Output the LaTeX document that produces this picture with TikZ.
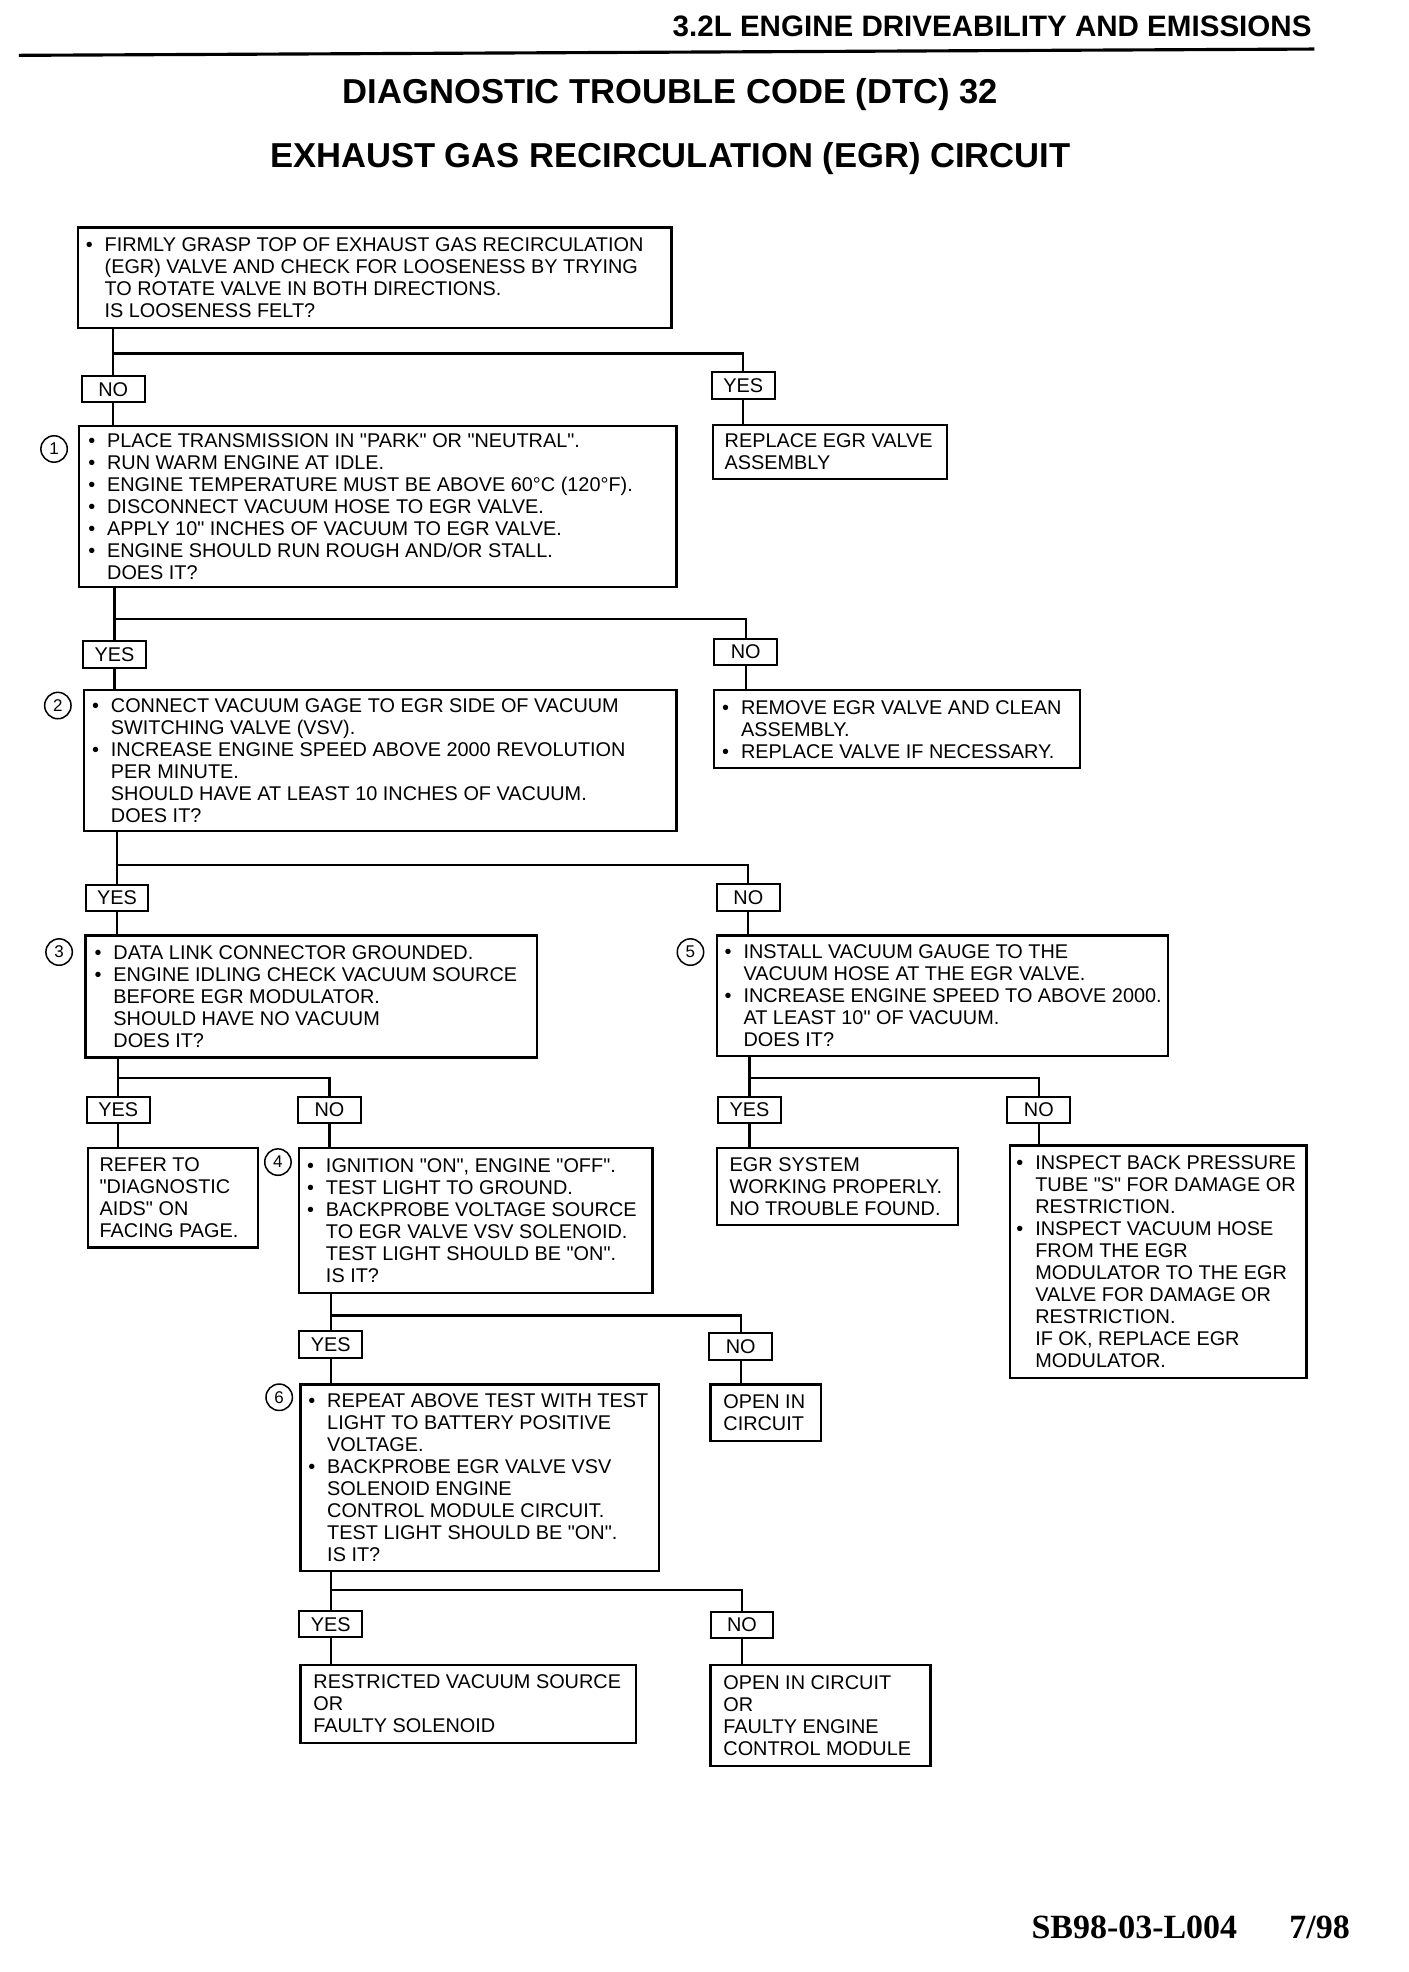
\documentclass[tikz,border=0pt]{standalone}
\usepackage{fontspec}
\setmainfont{Liberation Sans}[Ligatures=TeXOff]
\newfontfamily\serifb{Liberation Serif}
\newcommand\bodyf{\fontsize{15.8}{17.5}\selectfont}
\newcommand\bul{\makebox[15pt][l]{•}}
\newcommand\ind{\hspace*{15pt}}
\begin{document}
\begin{tikzpicture}[x=1pt,y=-1pt,
  box/.style={draw, line width=1.8pt, anchor=north west, inner sep=0pt, rectangle},
  txt/.style={anchor=west, align=left, inner sep=0pt, font=\bodyf},
  lab/.style={draw, line width=1.6pt, minimum width=50pt, minimum height=21pt, inner sep=0pt, font=\bodyf},
  num/.style={circle, draw, line width=1.2pt, minimum size=21pt, inner sep=0pt, font=\fontsize{13.5}{14}\selectfont},
  conn/.style={line width=1.8pt}]
\useasboundingbox (0,0) rectangle (1120,1568);
\fill[white] (0,0) rectangle (1120,1568);

% header
\node[anchor=east, inner sep=0pt, font=\bfseries\fontsize{23.5}{26}\selectfont] (hd) at (1043,21) {3.2L ENGINE DRIVEABILITY AND EMISSIONS};
\coordinate (hl) at (15,44);
\coordinate (hr) at (1045,39);
\draw[line width=2.5pt] (hl) -- (hr);
\node[font=\bfseries\fontsize{27.5}{30}\selectfont] (t1) at (533,75) {DIAGNOSTIC TROUBLE CODE (DTC) 32};
\node[font=\bfseries\fontsize{27.5}{30}\selectfont] (t2) at (533,126) {EXHAUST GAS RECIRCULATION (EGR) CIRCUIT};

% boxes
\node[box, minimum width=472pt, minimum height=80pt] (A) at (61,180) {};
\node[txt] (At) at ([xshift=7pt]A.west) {\bul FIRMLY GRASP TOP OF EXHAUST GAS RECIRCULATION\\ \ind (EGR) VALVE AND CHECK FOR LOOSENESS BY TRYING\\ \ind TO ROTATE VALVE IN BOTH DIRECTIONS.\\ \ind IS LOOSENESS FELT?};

\node[box, minimum width=186pt, minimum height=43pt] (rep) at (566,337) {};
\node[txt] (rept) at ([xshift=10pt]rep.west) {REPLACE EGR VALVE\\ASSEMBLY};

\node[box, minimum width=475pt, minimum height=128pt] (b1) at (62,338) {};
\node[txt] (b1t) at ([xshift=8pt]b1.west) {\bul PLACE TRANSMISSION IN "PARK" OR "NEUTRAL".\\ \bul RUN WARM ENGINE AT IDLE.\\ \bul ENGINE TEMPERATURE MUST BE ABOVE 60°C (120°F).\\ \bul DISCONNECT VACUUM HOSE TO EGR VALVE.\\ \bul APPLY 10" INCHES OF VACUUM TO EGR VALVE.\\ \bul ENGINE SHOULD RUN ROUGH AND/OR STALL.\\ \ind DOES IT?};
\node[num] (c1) at (43,357) {1};

\node[box, minimum width=471pt, minimum height=112pt] (b2) at (66,548) {};
\node[txt] (b2t) at ([xshift=7pt]b2.west) {\bul CONNECT VACUUM GAGE TO EGR SIDE OF VACUUM\\ \ind SWITCHING VALVE (VSV).\\ \bul INCREASE ENGINE SPEED ABOVE 2000 REVOLUTION\\ \ind PER MINUTE.\\ \ind SHOULD HAVE AT LEAST 10 INCHES OF VACUUM.\\ \ind DOES IT?};
\node[num] (c2) at (46,561) {2};

\node[box, minimum width=291pt, minimum height=62pt] (rem) at (567,548) {};
\node[txt] (remt) at ([xshift=7pt]rem.west) {\bul REMOVE EGR VALVE AND CLEAN\\ \ind ASSEMBLY.\\ \bul REPLACE VALVE IF NECESSARY.};

\node[box, minimum width=359pt, minimum height=97pt] (b3) at (67,743) {};
\node[txt] (b3t) at ([xshift=8pt]b3.west) {\bul DATA LINK CONNECTOR GROUNDED.\\ \bul ENGINE IDLING CHECK VACUUM SOURCE\\ \ind BEFORE EGR MODULATOR.\\ \ind SHOULD HAVE NO VACUUM\\ \ind DOES IT?};
\node[num] (c3) at (47,757) {3};

\node[box, minimum width=359pt, minimum height=96pt] (b5) at (569,743) {};
\node[txt] (b5t) at ([xshift=7pt]b5.west) {\bul INSTALL VACUUM GAUGE TO THE\\ \ind VACUUM HOSE AT THE EGR VALVE.\\ \bul INCREASE ENGINE SPEED TO ABOVE 2000.\\ \ind AT LEAST 10" OF VACUUM.\\ \ind DOES IT?};
\node[num] (c5) at (549,757) {5};

\node[box, minimum width=135pt, minimum height=79pt] (refer) at (69,912) {};
\node[txt] (refert) at ([xshift=10pt]refer.west) {REFER TO\\"DIAGNOSTIC\\AIDS" ON\\FACING PAGE.};

\node[box, minimum width=281pt, minimum height=115pt] (b4) at (237,912) {};
\node[txt] (b4t) at ([xshift=7pt]b4.west) {\bul IGNITION "ON", ENGINE "OFF".\\ \bul TEST LIGHT TO GROUND.\\ \bul BACKPROBE VOLTAGE SOURCE\\ \ind TO EGR VALVE VSV SOLENOID.\\ \ind TEST LIGHT SHOULD BE "ON".\\ \ind IS IT?};
\node[num] (c4) at (221,924) {4};

\node[box, minimum width=192pt, minimum height=61pt] (egrok) at (569,912) {};
\node[txt] (egrokt) at ([xshift=11pt]egrok.west) {EGR SYSTEM\\WORKING PROPERLY.\\NO TROUBLE FOUND.};

\node[box, minimum width=236pt, minimum height=185pt] (insp) at (802,910) {};
\node[txt] (inspt) at ([xshift=6pt]insp.west) {\bul INSPECT BACK PRESSURE\\ \ind TUBE "S" FOR DAMAGE OR\\ \ind RESTRICTION.\\ \bul INSPECT VACUUM HOSE\\ \ind FROM THE EGR\\ \ind MODULATOR TO THE EGR\\ \ind VALVE FOR DAMAGE OR\\ \ind RESTRICTION.\\ \ind IF OK, REPLACE EGR\\ \ind MODULATOR.};

\node[box, minimum width=285pt, minimum height=148pt] (b6) at (238,1100) {};
\node[txt] (b6t) at ([xshift=7pt]b6.west) {\bul REPEAT ABOVE TEST WITH TEST\\ \ind LIGHT TO BATTERY POSITIVE\\ \ind VOLTAGE.\\ \bul BACKPROBE EGR VALVE VSV\\ \ind SOLENOID ENGINE\\ \ind CONTROL MODULE CIRCUIT.\\ \ind TEST LIGHT SHOULD BE "ON".\\ \ind IS IT?};
\node[num] (c6) at (222,1111) {6};

\node[box, minimum width=88pt, minimum height=45pt] (open1) at (564,1100) {};
\node[txt] (open1t) at ([xshift=11pt]open1.west) {OPEN IN\\CIRCUIT};

\node[box, minimum width=267pt, minimum height=62pt] (restr) at (238,1323) {};
\node[txt] (restrt) at ([xshift=11pt]restr.west) {RESTRICTED VACUUM SOURCE\\OR\\FAULTY SOLENOID};

\node[box, minimum width=175pt, minimum height=80pt] (open2) at (564,1323) {};
\node[txt] (open2t) at ([xshift=11pt]open2.west) {OPEN IN CIRCUIT\\OR\\FAULTY ENGINE\\CONTROL MODULE};

% yes / no labels
\node[lab] (noA) at (90,309.5) {NO};
\node[lab] (yesA) at (591,306.5) {YES};
\node[lab] (yes1) at (91,520.5) {YES};
\node[lab] (no1) at (593,518.5) {NO};
\node[lab] (yes2) at (93,714) {YES};
\node[lab] (no2) at (595,713.5) {NO};
\node[lab] (yes3) at (94,882.5) {YES};
\node[lab] (no3) at (262,882.5) {NO};
\node[lab] (yes5) at (596,882.5) {YES};
\node[lab] (no5) at (826,882.5) {NO};
\node[lab] (yes4) at (263,1069) {YES};
\node[lab] (no4) at (589,1070.5) {NO};
\node[lab] (yes6) at (263,1291.5) {YES};
\node[lab] (no6) at (590,1292) {NO};

% junctions
\coordinate (jA) at (90,281);
\coordinate (j1) at (91,492);
\coordinate (j2) at (93,688);
\coordinate (j3) at (94,857);
\coordinate (j5) at (596,857);
\coordinate (j4) at (263,1046);
\coordinate (j6) at (263,1264);

% connectors
\draw[conn] (A.south -| jA) -- (jA) -- (jA -| yesA) -- (yesA.north);
\draw[conn] (jA) -- (noA.north);
\draw[conn] (noA.south) -- (noA.south |- b1.north);
\draw[conn] (yesA.south) -- (yesA.south |- rep.north);

\draw[conn] (b1.south -| j1) -- (j1) -- (j1 -| no1) -- (no1.north);
\draw[conn] (j1) -- (yes1.north);
\draw[conn] (yes1.south) -- (yes1.south |- b2.north);
\draw[conn] (no1.south) -- (no1.south |- rem.north);

\draw[conn] (b2.south -| j2) -- (j2) -- (j2 -| no2) -- (no2.north);
\draw[conn] (j2) -- (yes2.north);
\draw[conn] (yes2.south) -- (yes2.south |- b3.north);
\draw[conn] (no2.south) -- (no2.south |- b5.north);

\draw[conn] (b3.south -| j3) -- (j3) -- (j3 -| no3) -- (no3.north);
\draw[conn] (j3) -- (yes3.north);
\draw[conn] (yes3.south) -- (yes3.south |- refer.north);
\draw[conn] (no3.south) -- (no3.south |- b4.north);

\draw[conn] (b5.south -| j5) -- (j5) -- (j5 -| no5) -- (no5.north);
\draw[conn] (j5) -- (yes5.north);
\draw[conn] (yes5.south) -- (yes5.south |- egrok.north);
\draw[conn] (no5.south) -- (no5.south |- insp.north);

\draw[conn] (b4.south -| j4) -- (j4) -- (j4 -| no4) -- (no4.north);
\draw[conn] (j4) -- (yes4.north);
\draw[conn] (yes4.south) -- (yes4.south |- b6.north);
\draw[conn] (no4.south) -- (no4.south |- open1.north);

\draw[conn] (b6.south -| j6) -- (j6) -- (j6 -| no6) -- (no6.north);
\draw[conn] (j6) -- (yes6.north);
\draw[conn] (yes6.south) -- (yes6.south |- restr.north);
\draw[conn] (no6.south) -- (no6.south |- open2.north);

% footer
\node[anchor=base west, inner sep=0pt, font=\serifb\bfseries\fontsize{27}{30}\selectfont] (code) at (820,1541) {SB98-03-L004};
\node[anchor=base west, inner sep=0pt, font=\serifb\bfseries\fontsize{27}{30}\selectfont] (date) at (1025,1541) {7/98};
\end{tikzpicture}
\end{document}
